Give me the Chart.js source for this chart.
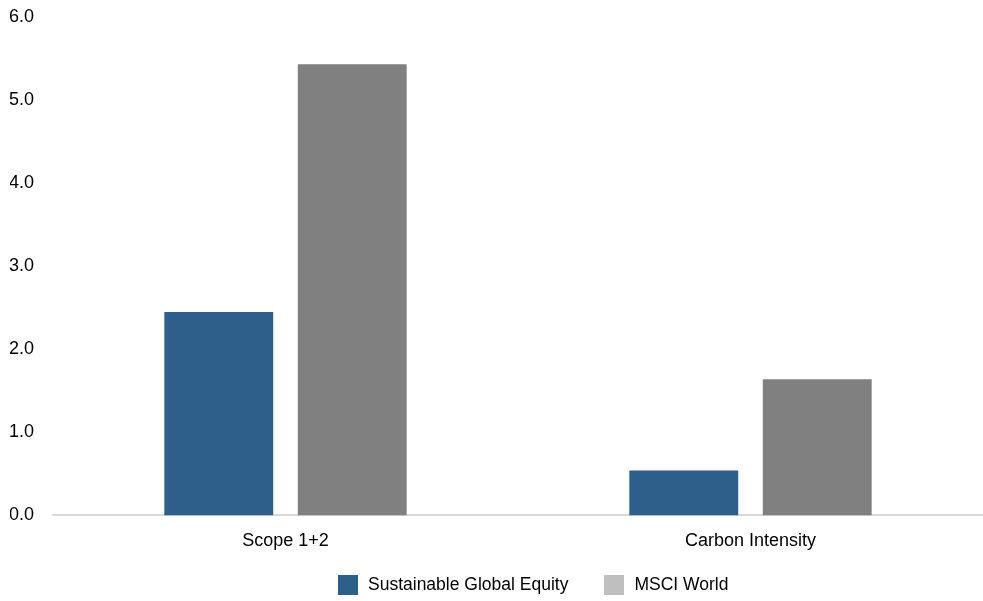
<!DOCTYPE html>
<html>
<head>
<meta charset="utf-8">
<script src="https://cdn.jsdelivr.net/npm/chart.js@4.4.1/dist/chart.umd.min.js"></script>
<style>
  html, body { margin: 0; padding: 0; background: #fff; overflow: hidden; }
  #wrap { position: relative; width: 983px; height: 601px; }
  #legend {
    position: absolute; left: 338px; top: 574px;
    display: flex; align-items: center;
    font-family: 'Liberation Sans', Arial, sans-serif; font-size: 17.5px; color: #000;
  }
  .item { display: flex; align-items: center; margin-right: 36px; }
  .box { width: 20px; height: 20px; margin-right: 10px; }
</style>
</head>
<body>
<div id="wrap">
  <canvas id="chart" width="983" height="601"></canvas>
  <div id="legend"></div>
</div>
<script>
// data
const categories = ['Scope 1+2', 'Carbon Intensity'];
const seriesNames = ['Sustainable Global Equity', 'MSCI World'];
const sgeValues = [2.45, 0.54];
const msciValues = [5.43, 1.64];
const yTicks = [0, 1, 2, 3, 4, 5, 6];

// colours
const blue = '#2e5f8a';
const grey = '#808080';
const greyLegend = '#bfbfbf';
const fontFamily = "'Liberation Sans', Arial, sans-serif";

Chart.defaults.font.family = fontFamily;
Chart.defaults.color = '#000';

const chart = new Chart(document.getElementById('chart').getContext('2d'), {
  type: 'bar',
  data: {
    labels: categories,
    datasets: [
      { label: seriesNames[0], data: sgeValues, backgroundColor: blue, legendColor: blue },
      { label: seriesNames[1], data: msciValues, backgroundColor: grey, legendColor: greyLegend }
    ]
  },
  options: {
    responsive: false,
    animation: false,
    categoryPercentage: 0.574,
    barPercentage: 0.816,
    layout: { padding: { left: 10, right: 0, top: 17, bottom: 34 } },
    plugins: { legend: { display: false }, tooltip: { enabled: false } },
    scales: {
      x: {
        grid: { display: false, drawTicks: false },
        border: { display: true, color: '#d9d9d9', width: 2 },
        ticks: { font: { size: 18 }, padding: 15 }
      },
      y: {
        min: 0,
        max: 6,
        afterBuildTicks: axis => { axis.ticks = yTicks.map(v => ({ value: v })); },
        // label column plus gap, so plot starts at x=53; top set by layout padding only
        afterFit: axis => { axis.width = 43; axis.paddingTop = 0; },
        grid: { display: false, drawTicks: false },
        border: { display: false },
        ticks: { font: { size: 18 }, padding: 19, callback: v => v.toFixed(1) }
      }
    }
  }
});

// legend built from the datasets
const legendEl = document.getElementById('legend');
chart.data.datasets.forEach(ds => {
  const item = document.createElement('div');
  item.className = 'item';
  const box = document.createElement('span');
  box.className = 'box';
  box.style.background = ds.legendColor;
  const text = document.createElement('span');
  text.textContent = ds.label;
  item.appendChild(box);
  item.appendChild(text);
  legendEl.appendChild(item);
});
</script>
</body>
</html>
